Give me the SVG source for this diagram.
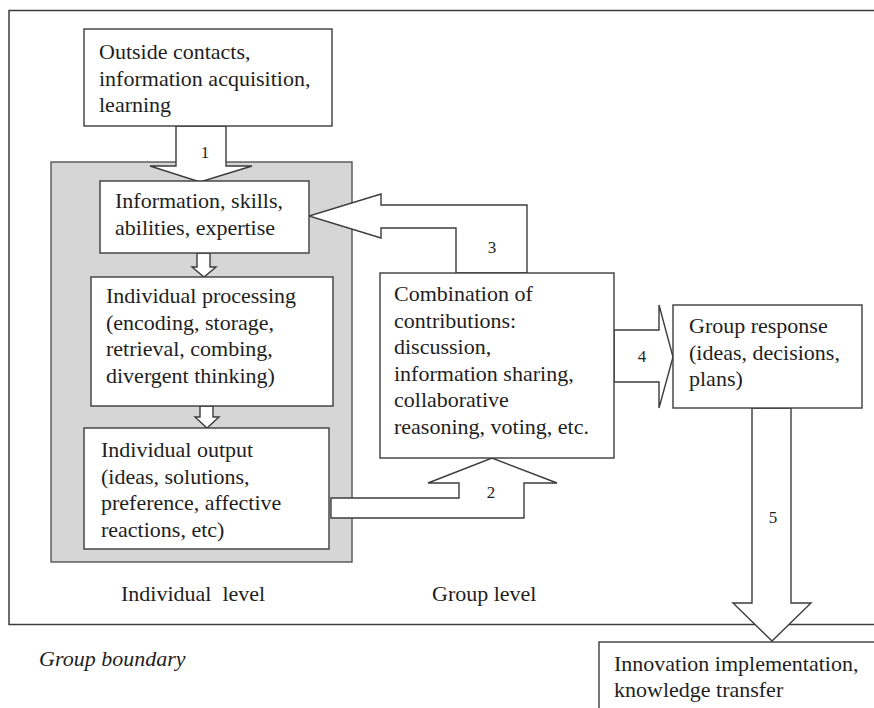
<svg xmlns="http://www.w3.org/2000/svg" width="874" height="708" viewBox="0 0 874 708" font-family="'Liberation Serif', 'DejaVu Serif', serif">
<style>
.box{fill:#fff;stroke:#3c3c3c;stroke-width:1.4}
.arr{fill:#fff;stroke:#3c3c3c;stroke-width:1.4;stroke-linejoin:miter}
.t{font-family:'Liberation Serif','DejaVu Serif',serif;font-size:22px;fill:#1e1e1e}
.n{font-family:'Liberation Serif','DejaVu Serif',serif;font-size:17px;fill:#1e1e1e;text-anchor:middle}
</style>
<rect width="874" height="708" fill="#fff"/>
<g id="group-boundary">
<rect x="9" y="10.5" width="880" height="614" fill="none" stroke="#3c3c3c" stroke-width="1.5"/>
<text class="t" x="39" y="666" font-style="italic">Group boundary</text>
</g>
<g id="individual-level">
<rect x="51" y="162" width="301" height="400" fill="#d6d6d6" stroke="#555" stroke-width="1.4"/>
<text class="t" x="121" y="601" xml:space="preserve">Individual  level</text>
</g>
<g id="group-level">
<text class="t" x="432" y="601">Group level</text>
</g>
<g id="connectors">
<polygon class="arr" points="176,126 176,166 150,166 200,182 252,166 226,166 226,126"/>
<text class="n" x="205" y="158">1</text>
<polygon class="arr" points="197,253 197,267 192,267 204,277 216,267 210,267 210,253"/>
<polygon class="arr" points="200,406 200,417 195,417 207,428 219,417 213,417 213,406"/>
<polygon class="arr" points="331,498 459,498 459,483 428,483 492,458 557,483 524,483 524,518 331,518"/>
<text class="n" x="491" y="498">2</text>
<polygon class="arr" points="456,273 456,228 381,228 381,238 309,216 381,194 381,205 527,205 527,273"/>
<text class="n" x="492" y="253">3</text>
<polygon class="arr" points="614,330 659,330 659,305 673,357 659,408 659,382 614,382"/>
<text class="n" x="642" y="362">4</text>
<polygon class="arr" points="752,408 752,603 733,603 772,641 811,603 791,603 791,408"/>
<text class="n" x="773" y="523">5</text>
</g>
<g id="outside-contacts">
<rect class="box" x="84" y="29" width="248" height="97"/>
<text class="t" x="99" y="59">Outside contacts,</text>
<text class="t" x="99" y="85.5">information acquisition,</text>
<text class="t" x="99" y="112">learning</text>
</g>
<g id="information-skills">
<rect class="box" x="100" y="181" width="209" height="72"/>
<text class="t" x="115" y="208">Information, skills,</text>
<text class="t" x="115" y="235">abilities, expertise</text>
</g>
<g id="individual-processing">
<rect class="box" x="91" y="277" width="242" height="129"/>
<text class="t" x="106" y="303">Individual processing</text>
<text class="t" x="106" y="329.5">(encoding, storage,</text>
<text class="t" x="106" y="356">retrieval, combing,</text>
<text class="t" x="106" y="382.5">divergent thinking)</text>
</g>
<g id="individual-output">
<rect class="box" x="84" y="428" width="245" height="121"/>
<text class="t" x="101" y="457">Individual output</text>
<text class="t" x="101" y="483.5">(ideas, solutions,</text>
<text class="t" x="101" y="510">preference, affective</text>
<text class="t" x="101" y="536.5">reactions, etc)</text>
</g>
<g id="combination">
<rect class="box" x="380" y="273" width="234" height="185"/>
<text class="t" x="394" y="301">Combination of</text>
<text class="t" x="394" y="327.5">contributions:</text>
<text class="t" x="394" y="354">discussion,</text>
<text class="t" x="394" y="380.5">information sharing,</text>
<text class="t" x="394" y="407">collaborative</text>
<text class="t" x="394" y="433.5">reasoning, voting, etc.</text>
</g>
<g id="group-response">
<rect class="box" x="673" y="305" width="189" height="103"/>
<text class="t" x="689" y="333">Group response</text>
<text class="t" x="689" y="359.5">(ideas, decisions,</text>
<text class="t" x="689" y="386">plans)</text>
</g>
<g id="innovation">
<rect class="box" x="599" y="642" width="290" height="80"/>
<text class="t" x="614" y="671">Innovation implementation,</text>
<text class="t" x="614" y="697">knowledge transfer</text>
</g>
</svg>
